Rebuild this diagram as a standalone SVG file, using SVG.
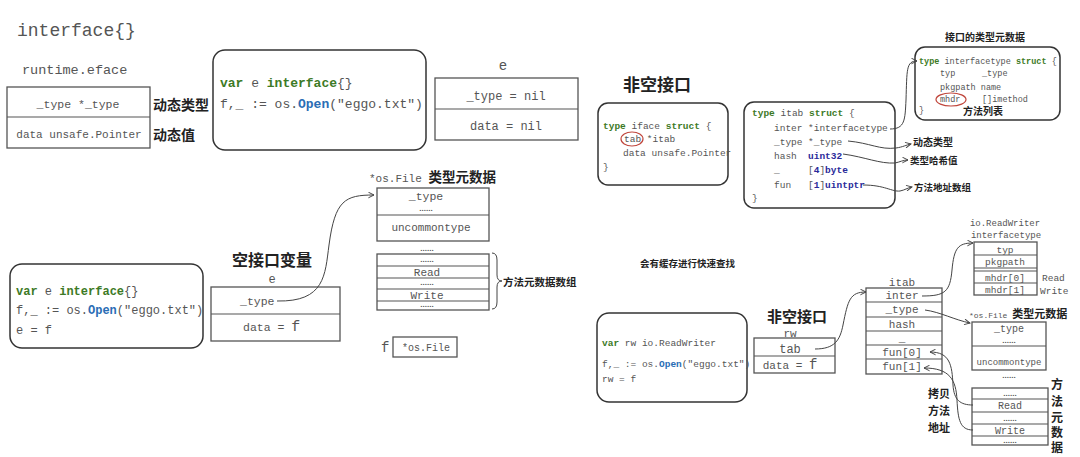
<svg xmlns="http://www.w3.org/2000/svg" width="1080" height="457" viewBox="0 0 1080 457">
<style>
.m{font-family:"Liberation Mono",monospace;fill:#555}
.c{font-family:"Noto Sans CJK SC",sans-serif;font-weight:bold;fill:#222}
.d{font-family:"Liberation Sans",sans-serif;font-weight:bold;fill:#555;font-size:8px;text-anchor:middle}
.b{fill:#fff;stroke:#555;stroke-width:1.3}
.l{stroke:#555;stroke-width:1.2}
.k{fill:#fff;stroke:#333;stroke-width:1.5}
.kw{fill:#3d7a26;font-weight:bold}
.fn{fill:#2a6db5;font-weight:bold}
.ty{fill:#2a2a9a;font-weight:bold}
.mid{text-anchor:middle}
.cn{fill:none;stroke:#444;stroke-width:1}
.red{fill:none;stroke:#c0463c;stroke-width:1.2}
</style>
<defs>
<marker id="ar" viewBox="0 0 10 10" refX="9" refY="5" markerWidth="7" markerHeight="7" markerUnits="userSpaceOnUse" orient="auto">
<path d="M1,1 L9,5 L1,9" fill="none" stroke="#444" stroke-width="1.4"/>
</marker>
</defs>
<rect width="1080" height="457" fill="#fff"/>

<g id="title">
<text class="m" x="17" y="36" font-size="18" fill="#444">interface{}</text>
</g>

<g id="eface">
<text class="m" x="22" y="74" font-size="13.5">runtime.eface</text>
<rect class="b" x="7" y="87" width="143" height="61"/>
<line class="l" x1="7" y1="117" x2="150" y2="117"/>
<text class="m mid" x="78" y="108" font-size="11.5">_type *_type</text>
<text class="m mid" x="79" y="138" font-size="11">data unsafe.Pointer</text>
<text class="c" x="153" y="110" font-size="14">动态类型</text>
<text class="c" x="153" y="140" font-size="14">动态值</text>
</g>

<g id="code1">
<rect class="k" x="213" y="50" width="213" height="100" rx="12"/>
<text class="m" x="220" y="87" font-size="13"><tspan class="kw">var</tspan> e <tspan class="kw">interface</tspan>{}</text>
<text class="m" x="220" y="108" font-size="13">f,_ := os.<tspan class="fn">Open</tspan>("eggo.txt")</text>
</g>

<g id="e-nil">
<text class="m mid" x="503" y="70" font-size="14">e</text>
<rect class="b" x="435" y="78" width="143" height="62"/>
<line class="l" x1="435" y1="109" x2="578" y2="109"/>
<text class="m mid" x="506" y="100" font-size="12">_type = nil</text>
<text class="m mid" x="506" y="130" font-size="12">data = nil</text>
</g>

<g id="iface">
<text class="c" x="623" y="91" font-size="17">非空接口</text>
<rect class="k" x="598" y="103" width="130" height="82" rx="10"/>
<text class="m" x="603" y="129" font-size="9.5"><tspan class="kw">type</tspan> iface <tspan class="kw">struct</tspan> {</text>
<text class="m" x="624" y="142" font-size="9.5">tab  *itab</text>
<text class="m" x="623" y="156" font-size="9.5">data unsafe.Pointer</text>
<text class="m" x="603" y="170" font-size="9.5">}</text>
<ellipse class="red" cx="632" cy="139" rx="11" ry="7"/>
</g>

<g id="itab-struct">
<rect class="k" x="744" y="102" width="151" height="106" rx="10"/>
<text class="m" x="752" y="116" font-size="9.5"><tspan class="kw">type</tspan> itab <tspan class="kw">struct</tspan> {</text>
<text class="m" x="774" y="131" font-size="9.5">inter<tspan x="808">*interfacetype</tspan></text>
<text class="m" x="774" y="145" font-size="9.5">_type<tspan x="808">*_type</tspan></text>
<text class="m" x="774" y="159" font-size="9.5">hash<tspan x="808" class="ty">uint32</tspan></text>
<text class="m" x="774" y="173" font-size="9.5">_<tspan x="808">[<tspan class="ty">4</tspan>]<tspan class="ty">byte</tspan></tspan></text>
<text class="m" x="774" y="188" font-size="9.5">fun<tspan x="808">[<tspan class="ty">1</tspan>]<tspan class="ty">uintptr</tspan></tspan></text>
<text class="m" x="752" y="201" font-size="9.5">}</text>
<text class="c" x="913" y="146" font-size="10">动态类型</text>
<text class="c" x="910" y="164" font-size="9.5">类型哈希值</text>
<text class="c" x="914" y="191" font-size="9.5">方法地址数组</text>
</g>

<g id="interfacetype">
<text class="c" x="945" y="41" font-size="10">接口的类型元数据</text>
<rect class="k" x="915" y="47" width="145" height="73" rx="10"/>
<text class="m" x="919" y="64" font-size="8.5"><tspan class="kw">type</tspan> interfacetype <tspan class="kw">struct</tspan> {</text>
<text class="m" x="940" y="76" font-size="8.5">typ<tspan x="982">_type</tspan></text>
<text class="m" x="940" y="90" font-size="8.5">pkgpath name</text>
<text class="m" x="940" y="102" font-size="8.5">mhdr<tspan x="982">[]imethod</tspan></text>
<text class="m" x="919" y="113" font-size="8.5">}</text>
<ellipse class="red" cx="951" cy="99.5" rx="15" ry="6.5"/>
<text class="c" x="963" y="115" font-size="10">方法列表</text>
</g>

<g id="code2">
<rect class="k" x="10" y="264" width="193" height="84" rx="12"/>
<text class="m" x="16" y="295" font-size="12"><tspan class="kw">var</tspan> e <tspan class="kw">interface</tspan>{}</text>
<text class="m" x="16" y="314" font-size="12">f,_ := os.<tspan class="fn">Open</tspan>("eggo.txt")</text>
<text class="m" x="16" y="334" font-size="12">e = f</text>
</g>

<g id="e-var">
<text class="c" x="232" y="266" font-size="16">空接口变量</text>
<text class="m mid" x="272" y="283" font-size="12">e</text>
<rect class="b" x="211" y="287" width="129" height="54"/>
<line class="l" x1="211" y1="314" x2="340" y2="314"/>
<text class="m" x="240" y="305" font-size="11.5">_type</text>
<text class="m" x="243" y="331" font-size="11.5">data = <tspan font-size="15">f</tspan></text>
</g>

<g id="osfile-meta">
<text class="m" x="369" y="182" font-size="11">*os.File <tspan class="c" font-size="13.5">类型元数据</tspan></text>
<rect class="b" x="377" y="188" width="112" height="53"/>
<line class="l" x1="377" y1="215" x2="489" y2="215"/>
<text class="m mid" x="426" y="200" font-size="11.5">_type</text>
<text class="d" x="426" y="211">......</text>
<text class="m mid" x="431" y="231" font-size="11">uncommontype</text>
<text class="d" x="427" y="251">......</text>
<rect class="b" x="377" y="254" width="112" height="56"/>
<line class="l" x1="377" y1="266" x2="489" y2="266"/>
<line class="l" x1="377" y1="278" x2="489" y2="278"/>
<line class="l" x1="377" y1="289" x2="489" y2="289"/>
<line class="l" x1="377" y1="301" x2="489" y2="301"/>
<text class="d" x="427" y="262">......</text>
<text class="m mid" x="427" y="276" font-size="11">Read</text>
<text class="d" x="427" y="285">......</text>
<text class="m mid" x="427" y="299" font-size="11">Write</text>
<text class="d" x="427" y="307">......</text>
<path d="M492,253 Q497,253 497,260 L497,275 Q497,281 502,281 Q497,281 497,287 L497,302 Q497,309 492,309" fill="none" stroke="#444" stroke-width="1"/>
<text class="c" x="503" y="286" font-size="10.5">方法元数据数组</text>
</g>

<g id="f-var">
<text class="m" x="381" y="352" font-size="14">f</text>
<rect class="b" x="393" y="337" width="64" height="20"/>
<text class="m mid" x="426" y="351" font-size="10">*os.File</text>
</g>

<g id="cache-note">
<text class="c" x="640" y="267" font-size="9.5" font-weight="500">会有缓存进行快速查找</text>
</g>

<g id="code3">
<rect class="k" x="597" y="313" width="150" height="89" rx="12"/>
<text class="m" x="602" y="346" font-size="9.5"><tspan class="kw">var</tspan> rw io.ReadWriter</text>
<text class="m" x="602" y="367" font-size="9.5">f,_ := os.<tspan class="fn">Open</tspan>("eggo.txt")</text>
<text class="m" x="602" y="382" font-size="9.5">rw = f</text>
</g>

<g id="rw-var">
<text class="c" x="767" y="322" font-size="15">非空接口</text>
<text class="m mid" x="790" y="337" font-size="11">rw</text>
<rect class="b" x="754" y="338" width="81" height="35"/>
<line class="l" x1="754" y1="356" x2="835" y2="356"/>
<text class="m mid" x="790" y="353" font-size="12">tab</text>
<text class="m mid" x="790" y="369" font-size="11">data = <tspan font-size="14">f</tspan></text>
</g>

<g id="itab-table">
<text class="m mid" x="902" y="286" font-size="11">itab</text>
<rect class="b" x="866" y="288" width="76" height="86"/>
<line class="l" x1="866" y1="302" x2="942" y2="302"/>
<line class="l" x1="866" y1="317" x2="942" y2="317"/>
<line class="l" x1="866" y1="331" x2="942" y2="331"/>
<line class="l" x1="866" y1="345" x2="942" y2="345"/>
<line class="l" x1="866" y1="359" x2="942" y2="359"/>
<text class="m mid" x="902" y="299" font-size="11">inter</text>
<text class="m mid" x="902" y="313" font-size="11">_type</text>
<text class="m mid" x="902" y="328" font-size="11">hash</text>
<text class="m mid" x="902" y="342" font-size="11">_</text>
<text class="m mid" x="902" y="356" font-size="11">fun[0]</text>
<text class="m mid" x="902" y="370" font-size="11">fun[1]</text>
</g>

<g id="rw-interfacetype">
<text class="m mid" x="1005" y="226" font-size="9">io.ReadWriter</text>
<text class="m mid" x="1006" y="238" font-size="9">interfacetype</text>
<rect class="b" x="974" y="242" width="63" height="53"/>
<line class="l" x1="974" y1="255" x2="1037" y2="255"/>
<line class="l" x1="974" y1="268" x2="1037" y2="268"/>
<line class="l" x1="974" y1="271" x2="1037" y2="271"/>
<line class="l" x1="974" y1="283" x2="1037" y2="283"/>
<text class="m mid" x="1005" y="253" font-size="9.5">typ</text>
<text class="m mid" x="1005" y="265" font-size="9.5">pkgpath</text>
<text class="m mid" x="1005" y="281" font-size="9.5">mhdr[0]</text>
<text class="m mid" x="1005" y="293" font-size="9.5">mhdr[1]</text>
<text class="m" x="1042" y="281" font-size="9.5">Read</text>
<text class="m" x="1040" y="294" font-size="9.5">Write</text>
</g>

<g id="osfile-meta2">
<text class="m" x="969" y="318" font-size="8">*os.File <tspan class="c" font-size="11">类型元数据</tspan></text>
<rect class="b" x="972" y="322" width="74" height="48"/>
<line class="l" x1="972" y1="346" x2="1046" y2="346"/>
<text class="m mid" x="1009" y="332" font-size="10">_type</text>
<text class="d" x="1009" y="343" font-size="7">......</text>
<text class="m mid" x="1009" y="365" font-size="9">uncommontype</text>
<text class="d" x="1009" y="378" font-size="7">......</text>
<rect class="b" x="972" y="388" width="76" height="57"/>
<line class="l" x1="972" y1="399" x2="1048" y2="399"/>
<line class="l" x1="972" y1="412" x2="1048" y2="412"/>
<line class="l" x1="972" y1="424" x2="1048" y2="424"/>
<line class="l" x1="972" y1="436" x2="1048" y2="436"/>
<text class="d" x="1010" y="396" font-size="7">......</text>
<text class="m mid" x="1010" y="409" font-size="10">Read</text>
<text class="d" x="1010" y="421" font-size="7">......</text>
<text class="m mid" x="1010" y="434" font-size="10">Write</text>
<text class="d" x="1010" y="443" font-size="7">......</text>
<text class="c mid" x="1057" y="389" font-size="12">方</text>
<text class="c mid" x="1057" y="406" font-size="12">法</text>
<text class="c mid" x="1057" y="422" font-size="12">元</text>
<text class="c mid" x="1057" y="437" font-size="12">数</text>
<text class="c mid" x="1057" y="452" font-size="12">据</text>
<text class="c" x="928" y="398" font-size="11">拷贝</text>
<text class="c" x="928" y="415" font-size="11">方法</text>
<text class="c" x="928" y="432" font-size="11">地址</text>
</g>

<g id="connectors">
<path class="cn" d="M890,129 C905,129 905,120 906,100 C907,70 906,61 917,61" marker-end="url(#ar)"/>
<path class="cn" d="M848,141 C870,143 880,150 896,148 C903,147 906,145 911,144" marker-end="url(#ar)"/>
<path class="cn" d="M843,154 C865,157 880,164 895,163 C900,162 903,160 908,160" marker-end="url(#ar)"/>
<path class="cn" d="M863,185 C885,185 892,192 900,191 C905,190 907,188 912,187" marker-end="url(#ar)"/>
<path class="cn" d="M277,301 C325,302 325,275 329,245 C335,200 345,195 374,195" marker-end="url(#ar)"/>
<path class="cn" d="M815,349 C835,349 840,340 843,325 C848,300 850,292 866,292" marker-end="url(#ar)"/>
<path class="cn" d="M922,296 C945,296 950,292 952,270 C954,248 958,243 973,243" marker-end="url(#ar)"/>
<path class="cn" d="M925,310 C940,312 955,320 970,323" marker-end="url(#ar)"/>
<path class="cn" d="M973,405 C960,405 954,400 953,385 C952,365 950,352 930,352" marker-end="url(#ar)"/>
<path class="cn" d="M973,430 C960,430 958,420 957,400 C956,380 950,368 924,368" marker-end="url(#ar)"/>
</g>
</svg>
